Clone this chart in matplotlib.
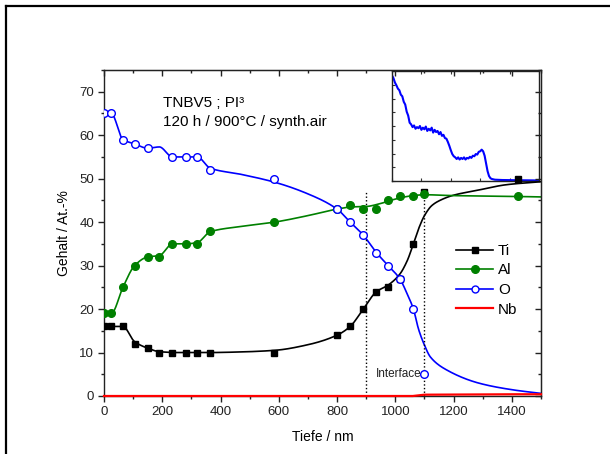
import numpy as np
import matplotlib
matplotlib.use("Agg")
import matplotlib.pyplot as plt
from matplotlib.lines import Line2D
from matplotlib.ticker import MultipleLocator

plt.rcParams['font.family'] = ['Liberation Sans', 'DejaVu Sans']

# ---- measured concentrations (At.-%) vs depth (nm) ----
depth = [0, 25, 65, 105, 150, 190, 235, 280, 320, 365, 585,
         800, 845, 890, 935, 975, 1015, 1060, 1100, 1420]
ti = [16, 16, 16, 12, 11, 10, 10, 10, 10, 10, 10,
      14, 16, 20, 24, 25, 27, 35, 47, 50]
al = [19, 19, 25, 30, 32, 32, 35, 35, 35, 38, 40,
      43, 44, 43, 43, 45, 46, 46, 46.5, 46]
o_depth = [0, 25, 65, 105, 150, 235, 280, 320, 365, 585,
           800, 845, 890, 935, 975, 1015, 1060, 1100]
o = [65, 65, 59, 58, 57, 55, 55, 55, 52, 50,
     43, 40, 37, 33, 30, 27, 20, 5]
nb_depth = [0, 585, 1060, 1100, 1420, 1500]
nb = [0, 0, 0, 0.3, 0.4, 0.4]

# ---- fitted profile curves (knots) ----
ti_fit_x = [0, 25, 65, 105, 150, 190, 250, 365, 450, 585, 700, 800, 845, 890,
            935, 975, 1015, 1040, 1062, 1080, 1100, 1125, 1153, 1200, 1280, 1380, 1500]
ti_fit_y = [16, 16, 16, 12.5, 11, 10.2, 10, 10, 10.1, 10.5, 11.8, 14, 16, 20,
            24, 25.5, 28, 31, 35, 38.5, 41.5, 43.8, 45, 46.2, 47.3, 48.6, 49.3]
al_fit_x = [0, 25, 65, 105, 150, 190, 235, 280, 320, 365, 470, 585, 700, 800,
            850, 900, 950, 1000, 1050, 1100, 1200, 1420, 1500]
al_fit_y = [19, 19, 25, 30, 32, 32.3, 35, 35, 35.3, 37.8, 39, 40, 41.5, 43,
            43.5, 43.6, 44.3, 45.3, 46, 46.3, 46.1, 45.9, 45.8]
o_fit_x = [0, 25, 65, 105, 150, 190, 235, 280, 320, 365, 470, 585, 700, 800,
           845, 890, 935, 975, 1015, 1040, 1062, 1080, 1100, 1120, 1176, 1290, 1405, 1500]
o_fit_y = [65, 65, 59, 58, 57, 57.3, 55, 55, 55, 52.4, 51, 49.2, 46.5, 43,
           40, 37, 33, 30, 27, 23.6, 20, 15.3, 11.7, 9, 6, 2.9, 1.4, 0.6]

# ---- inset: raw sputter profile (arbitrary units) ----
ins_x = list(range(0, 69)) + [70, 75, 85, 100]
ins_y = [96, 93.5, 89.5, 87, 84, 82.5, 78.5, 77, 72, 69.5, 63, 59.5, 53, 51.5,
         49, 50.5, 47.5, 49, 48, 50, 46.5, 48.5, 47, 49.5, 45.5, 47.5, 46,
         48.5, 44, 46.5, 44.5, 45.5, 42.5, 44.5, 41, 42, 39, 38.5, 35.5, 32,
         28, 24.5, 22.5, 21.5, 20, 21.5, 19.5, 21, 20, 21.5, 19.5, 21, 20.5, 22,
         21, 23, 22.5, 24.5, 24, 26.5, 27, 28.5, 27, 23, 16, 9, 4.5, 2.5, 1.8,
         1.2, 0.9, 0.7, 0.5]


def pchip(x, y, xs):
    x = np.asarray(x, float)
    y = np.asarray(y, float)
    h = np.diff(x)
    d = np.diff(y) / h
    m = np.zeros_like(y)
    for k in range(1, len(x) - 1):
        if d[k - 1] * d[k] > 0:
            w1 = 2 * h[k] + h[k - 1]
            w2 = h[k] + 2 * h[k - 1]
            m[k] = (w1 + w2) / (w1 / d[k - 1] + w2 / d[k])
    m[0] = d[0]
    m[-1] = d[-1]
    idx = np.clip(np.searchsorted(x, xs) - 1, 0, len(h) - 1)
    t = (xs - x[idx]) / h[idx]
    h00 = 2 * t**3 - 3 * t**2 + 1
    h10 = t**3 - 2 * t**2 + t
    h01 = -2 * t**3 + 3 * t**2
    h11 = t**3 - t**2
    return (h00 * y[idx] + h10 * h[idx] * m[idx]
            + h01 * y[idx + 1] + h11 * h[idx] * m[idx + 1])


W, H = 610, 454
fig = plt.figure(figsize=(W / 100, H / 100), dpi=100, facecolor='white')

# inset (behind main axes)
axi = fig.add_axes([392 / W, 1 - 181 / H, 147 / W, 110 / H], zorder=0)
axi.plot(ins_x, ins_y, color='#0000ff', lw=1.5)
axi.set_xlim(0, 100)
axi.set_ylim(0, 100)
axi.yaxis.set_major_locator(MultipleLocator(12.5))
axi.xaxis.set_major_locator(MultipleLocator(20))
axi.tick_params(direction='in', length=2.5, width=0.8, labelleft=False,
                labelbottom=False, top=True, colors='#333333')
for s in axi.spines.values():
    s.set_linewidth(1.0)
    s.set_color('#222222')

ax = fig.add_axes([104 / W, 1 - 396 / H, 437 / W, 326 / H], zorder=1)
ax.patch.set_alpha(0)

xs = np.linspace(0, 1500, 600)
ax.plot(xs, pchip(ti_fit_x, ti_fit_y, xs), color='black', lw=1.2)
ax.plot(xs, pchip(al_fit_x, al_fit_y, xs), color='#008000', lw=1.2)
ax.plot(xs, pchip(o_fit_x, o_fit_y, xs), color='#0000ff', lw=1.2)

ax.plot(depth, ti, ls='none', marker='s', ms=5, color='black', zorder=4)
ax.plot(depth, al, ls='none', marker='o', ms=5.5, color='#008000', zorder=4)
ax.plot(o_depth, o, ls='none', marker='o', ms=5.5, mfc='white',
        mec='#0000ff', mew=1.0, zorder=4)
ax.plot(nb_depth, nb, color='#ff0000', lw=1.6, zorder=5, clip_on=False)

ax.vlines([900, 1100], 0, 47, colors='black', lw=1.0,
          linestyles=[(0, (1, 1.6))], zorder=3)

ax.text(1090, 5, 'Interface', ha='right', va='center', fontsize=8.5,
        color='#222222')
ax.text(0.135, 0.90, 'TNBV5 ; PI³', transform=ax.transAxes, fontsize=11,
        va='center', ha='left')
ax.text(0.135, 0.84, '120 h / 900°C / synth.air', transform=ax.transAxes,
        fontsize=11, va='center', ha='left')

ax.set_xlim(0, 1500)
ax.set_ylim(0, 75)
ax.xaxis.set_major_locator(MultipleLocator(200))
ax.xaxis.set_minor_locator(MultipleLocator(100))
ax.yaxis.set_major_locator(MultipleLocator(10))
ax.yaxis.set_minor_locator(MultipleLocator(5))
ax.tick_params(which='both', direction='out', labelsize=9.5, width=1.0,
               colors='#222222', pad=3)
ax.tick_params(which='major', length=4)
ax.tick_params(which='minor', length=2.5)
for s in ax.spines.values():
    s.set_linewidth(1.0)
    s.set_color('#222222')

# inward ticks on the top and right spines
sec_x = ax.secondary_xaxis('top')
sec_x.xaxis.set_major_locator(MultipleLocator(200))
sec_x.xaxis.set_minor_locator(MultipleLocator(100))
sec_x.tick_params(which='both', direction='in', labeltop=False, width=1.0,
                  colors='#222222')
sec_x.tick_params(which='major', length=4)
sec_x.tick_params(which='minor', length=2.5)
sec_y = ax.secondary_yaxis('right')
sec_y.yaxis.set_major_locator(MultipleLocator(10))
sec_y.yaxis.set_minor_locator(MultipleLocator(5))
sec_y.tick_params(which='both', direction='in', labelright=False, width=1.0,
                  colors='#222222')
sec_y.tick_params(which='major', length=4)
sec_y.tick_params(which='minor', length=2.5)

ax.set_xlabel('Tiefe / nm', fontsize=10, labelpad=9)
ax.set_ylabel('Gehalt / At.-%', fontsize=10, labelpad=6)

handles = [
    Line2D([], [], color='black', marker='s', ms=5, lw=1.2),
    Line2D([], [], color='#008000', marker='o', ms=5.5, lw=1.2),
    Line2D([], [], color='#0000ff', marker='o', ms=5, mfc='white', mew=1.0, lw=1.2),
    Line2D([], [], color='#ff0000', lw=1.6),
]
fig.legend(handles, ['Ti', 'Al', 'O', 'Nb'], loc='upper left',
           bbox_to_anchor=(456 / W, 1 - 244 / H), frameon=False, fontsize=11,
           handlelength=2.45, handletextpad=0.3, labelspacing=0.36,
           borderpad=0, borderaxespad=0)

# page frame
fig.add_artist(Line2D([6 / W, 6 / W], [0, 1 - 5.5 / H], color='black', lw=1.6,
                      transform=fig.transFigure))
fig.add_artist(Line2D([6 / W, 1], [1 - 5.5 / H, 1 - 5.5 / H], color='black',
                      lw=1.6, transform=fig.transFigure))

fig.savefig('out.png', dpi=100, facecolor='white')
